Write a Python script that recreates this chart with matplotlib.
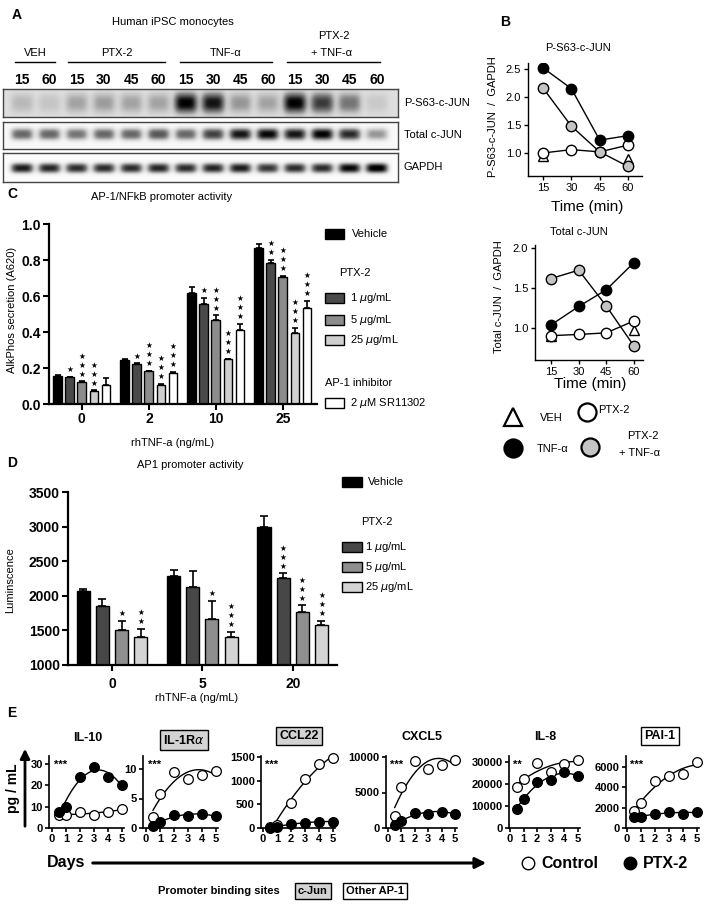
import numpy as np
import matplotlib
matplotlib.use('Agg')
import matplotlib.pyplot as plt
from matplotlib.patches import Rectangle
from matplotlib.transforms import ScaledTranslation

plt.rcParams['font.family'] = ['Liberation Sans', 'DejaVu Sans']

W, H = 711, 908

# ---------------- DATA ----------------
# Panel A (western blot band darkness, 0..1)
blot_time_labels = ['15', '60', '15', '30', '45', '60', '15', '30', '45', '60', '15', '30', '45', '60']
blot_groups = ['VEH', 'PTX-2', 'TNF-α', 'PTX-2\n+ TNF-α']
blot_names = ['P-S63-c-JUN', 'Total c-JUN', 'GAPDH']
band_pjun = [0.17, 0.12, 0.24, 0.26, 0.24, 0.24, 0.78, 0.72, 0.28, 0.24, 0.78, 0.60, 0.40, 0.10]
band_total = [0.62, 0.62, 0.57, 0.62, 0.62, 0.68, 0.62, 0.75, 0.88, 0.93, 0.88, 0.95, 0.82, 0.45]
band_gapdh = [0.88, 0.85, 0.83, 0.83, 0.83, 0.85, 0.83, 0.85, 0.88, 0.80, 0.83, 0.83, 0.95, 1.00]

# Panel B
b_times = [15, 30, 45, 60]
pjun_tnf = [2.52, 2.15, 1.23, 1.31]
pjun_ptx_tnf = [2.16, 1.48, 1.02, 0.76]
pjun_ptx = [1.00, 1.06, 1.02, 1.14]
veh_times = [15, 60]
pjun_veh = [0.95, 0.89]
tot_tnf = [1.04, 1.27, 1.48, 1.82]
tot_ptx_tnf = [1.62, 1.725, 1.275, 0.775]
tot_ptx = [0.905, 0.92, 0.94, 1.09]
tot_veh = [0.90, 0.975]

# Panel C
c_groups = ['0', '2', '10', '25']
c_series = ['Vehicle', '1 $\\mu$g/mL', '5 $\\mu$g/mL', '25 $\\mu$g/mL', '2 $\\mu$M SR11302']
c_vehicle = [0.155, 0.244, 0.615, 0.865]
c_1ug = [0.148, 0.222, 0.554, 0.785]
c_5ug = [0.122, 0.183, 0.467, 0.707]
c_25ug = [0.074, 0.107, 0.248, 0.393]
c_sr = [0.104, 0.174, 0.410, 0.532]
c_vehicle_err = [0.005, 0.004, 0.033, 0.022]
c_1ug_err = [0.004, 0.004, 0.036, 0.015]
c_5ug_err = [0.004, 0.003, 0.025, 0.003]
c_25ug_err = [0.002, 0.003, 0.004, 0.032]
c_sr_err = [0.039, 0.004, 0.034, 0.040]
c_stars = [[0, 1, 3, 3, 0],
           [0, 1, 3, 3, 3],
           [0, 1, 3, 3, 3],
           [0, 2, 3, 3, 3]]

# Panel D
d_groups = ['0', '5', '20']
d_series = ['Vehicle', '1 $\\mu$g/mL', '5 $\\mu$g/mL', '25 $\\mu$g/mL']
d_vehicle = [2065, 2290, 3000]
d_1ug = [1850, 2120, 2260]
d_5ug = [1510, 1660, 1770]
d_25ug = [1410, 1410, 1580]
d_vehicle_err = [30, 85, 160]
d_1ug_err = [100, 245, 65]
d_5ug_err = [130, 270, 90]
d_25ug_err = [110, 70, 55]
d_stars = [[0, 0, 1, 2],
           [0, 0, 1, 3],
           [0, 3, 3, 3]]

# Panel E
e_days = [0.5, 1, 2, 3, 4, 5]
e_names = ['IL-10', 'IL-1R$\\alpha$', 'CCL22', 'CXCL5', 'IL-8', 'PAI-1']
e_sig = ['***', '***', '***', '***', '**', '***']
il10_ctrl = [6.0, 6.3, 7.4, 6.3, 7.6, 8.8]
il10_ptx = [7.6, 10.0, 23.7, 28.6, 23.8, 20.2]
il1ra_ctrl = [1.9, 5.8, 9.5, 8.3, 9.0, 9.6]
il1ra_ptx = [0.4, 1.0, 2.2, 2.0, 2.4, 2.0]
ccl22_ctrl = [21, 71, 533, 1038, 1351, 1479]
ccl22_ptx = [10, 21, 78, 114, 135, 135]
cxcl5_ctrl = [1760, 5710, 9380, 8240, 8900, 9520]
cxcl5_ptx = [476, 950, 2140, 2000, 2290, 2000]
il8_ctrl = [18650, 22230, 29530, 25340, 29220, 31090]
il8_ptx = [8860, 13210, 20980, 21760, 25650, 23630]
pai1_ctrl = [1667, 2467, 4600, 5100, 5333, 6500]
pai1_ptx = [1067, 1067, 1400, 1567, 1400, 1567]
e_yticks = [[0, 10, 20, 30], [0, 5, 10], [0, 500, 1000, 1500],
            [0, 5000, 10000], [0, 10000, 20000, 30000], [0, 2000, 4000, 6000]]

# ---------------- FIGURE ----------------
fig = plt.figure(figsize=(W / 100, H / 100), dpi=100)


def px_axes(x0, y0, x1, y1):
    return fig.add_axes([x0 / W, 1 - y1 / H, (x1 - x0) / W, (y1 - y0) / H])


ov = fig.add_axes([0, 0, 1, 1])
ov.set_xlim(0, W)
ov.set_ylim(H, 0)
ov.axis('off')
ov.set_zorder(5)


def T(x, y, s, size=8, weight='normal', ha='center', va='center', **kw):
    ov.text(x, y, s, fontsize=size, fontweight=weight, ha=ha, va=va, **kw)


def star_stack(ax, x, y, n):
    if n <= 0:
        return
    ax.annotate('\n'.join(['★'] * n), (x, y), xytext=(0, 2), textcoords='offset points',
                ha='center', va='bottom', fontsize=5.5, linespacing=1.0,
                family='DejaVu Sans')


# ---------- Panel A ----------
T(17, 15, 'A', size=10, weight='bold')
T(173, 22, 'Human iPSC monocytes', size=8)
group_spans = [(15, 55), (68, 165), (180, 272), (287, 380)]
for (a, b), g in zip(group_spans, blot_groups):
    ov.plot([a, b], [62, 62], color='black', lw=1)
    if '\n' in g:
        l1, l2 = g.split('\n')
        T((a + b) / 2, 36, l1, size=8)
        T((a + b) / 2 - 2, 53, l2, size=8)
    else:
        T((a + b) / 2, 53, g, size=8)
lane_x = np.linspace(22, 377, 14)
for x, t in zip(lane_x, blot_time_labels):
    T(x, 80, t, size=10, weight='bold')

blot_boxes = [(89, 117), (122, 149), (153, 182)]
blot_params = [(band_pjun, 0.22, 11.5, 0.36, 0.5),
               (band_total, 0.05, 11.5, 0.23, 0.45),
               (band_gapdh, 0.03, 11.5, 0.18, 0.52)]
for (y0, y1), (bands, bg, sx, sy, yc), name in zip(blot_boxes, blot_params, blot_names):
    ax = px_axes(3, y0, 398, y1)
    xs = np.linspace(3, 398, 800)
    ys = np.linspace(0, 1, 60)
    X, Y = np.meshgrid(xs, ys)
    img = np.full(X.shape, bg)
    for c, a in zip(lane_x, bands):
        img += a * np.exp(-np.abs((X - c) / sx) ** 4) * np.exp(-np.abs((Y - yc) / sy) ** 2.5)
    ax.imshow(np.clip(img, 0, 1), cmap='Greys', vmin=0, vmax=1, aspect='auto',
              extent=(3, 398, 1, 0), interpolation='bilinear')
    ax.set_xticks([])
    ax.set_yticks([])
    for s in ax.spines.values():
        s.set_color('#444444')
        s.set_linewidth(1)
    T(404, (y0 + y1) / 2, name, size=8, ha='left')

# ---------- Panel B ----------
T(505, 22, 'B', size=10, weight='bold')


def b_plot(ax, tnf, ptx_tnf, ptx, veh):
    ax.plot(b_times, ptx, '-', color='black', lw=1, zorder=2)
    ax.plot(b_times, ptx_tnf, '-', color='black', lw=1, zorder=2)
    ax.plot(b_times, tnf, '-', color='black', lw=1, zorder=2)
    ax.plot(veh_times, veh, '^', ms=7, mfc='white', mec='black', mew=1, zorder=3)
    ax.plot(b_times, ptx, 'o', ms=7.5, mfc='white', mec='black', mew=1, zorder=4)
    ax.plot(b_times, ptx_tnf, 'o', ms=7.5, mfc='#c4c4c4', mec='black', mew=1, zorder=5)
    ax.plot(b_times, tnf, 'o', ms=7.5, mfc='black', mec='black', mew=1, zorder=6)
    for s in ['top', 'right']:
        ax.spines[s].set_visible(False)
    ax.set_xticks(b_times)
    ax.tick_params(labelsize=8, length=3, width=1, pad=2)
    for s in ['left', 'bottom']:
        ax.spines[s].set_linewidth(1)


axb1 = px_axes(528, 63, 642, 176)
b_plot(axb1, pjun_tnf, pjun_ptx_tnf, pjun_ptx, pjun_veh)
axb1.set_xlim(7.06, 67.4)
axb1.set_ylim(0.589, 2.607)
axb1.set_yticks([1.0, 1.5, 2.0, 2.5])
axb1.set_yticklabels(['1.0', '1.5', '2.0', '2.5'])
T(578, 48, 'P-S63-c-JUN', size=8)
T(493, 117, 'P-S63-c-JUN  /  GAPDH', size=8, rotation=90)
T(587, 207, 'Time (min)', size=11)

axb2 = px_axes(535, 245, 643, 360)
b_plot(axb2, tot_tnf, tot_ptx_tnf, tot_ptx, tot_veh)
axb2.set_xlim(6.3, 64.9)
axb2.set_ylim(0.6, 2.04)
axb2.set_yticks([1.0, 1.5, 2.0])
axb2.set_yticklabels(['1.0', '1.5', '2.0'])
T(579, 232, 'Total c-JUN', size=8)
T(499, 297, 'Total c-JUN  /  GAPDH', size=8, rotation=90)
T(590, 384, 'Time (min)', size=11)

# B legend
ov.plot(513, 417, '^', ms=13, mfc='white', mec='black', mew=1.6)
T(540, 418, 'VEH', size=8, ha='left')
ov.plot(587, 412, 'o', ms=13, mfc='white', mec='black', mew=1.6)
T(598, 410, 'PTX-2', size=8, ha='left')
ov.plot(513, 448, 'o', ms=13, mfc='black', mec='black', mew=1.6)
T(537, 449, 'TNF-α', size=8, ha='left')
ov.plot(590, 447, 'o', ms=13, mfc='#c4c4c4', mec='black', mew=1.6)
T(643, 436, 'PTX-2', size=8)
T(640, 453, '+ TNF-α', size=8)

# ---------- Panel C ----------
T(12, 194, 'C', size=10, weight='bold')
T(162, 197, 'AP-1/NFkB promoter activity', size=8)
axc = px_axes(49, 224, 317, 404)
c_vals = [c_vehicle, c_1ug, c_5ug, c_25ug, c_sr]
c_errs = [c_vehicle_err, c_1ug_err, c_5ug_err, c_25ug_err, c_sr_err]
c_colors = ['#000000', '#4a4a4a', '#8c8c8c', '#cfcfcf', '#ffffff']
cx = np.arange(len(c_groups))
c_step = 0.181
c_w = 0.13
for i, (vals, errs, col) in enumerate(zip(c_vals, c_errs, c_colors)):
    xpos = cx + (i - 2) * c_step
    axc.bar(xpos, vals, width=c_w, color=col, edgecolor='black', linewidth=1, zorder=2)
    axc.errorbar(xpos, vals, yerr=[np.zeros(len(vals)), errs], fmt='none', ecolor='black',
                 elinewidth=1.2, capsize=2.5, capthick=1.2, zorder=3)
    for g in range(len(c_groups)):
        star_stack(axc, xpos[g], vals[g] + errs[g], c_stars[g][i])
axc.set_xlim(-0.49, 3.51)
axc.set_ylim(0, 1.0)
axc.set_yticks([0, 0.2, 0.4, 0.6, 0.8, 1.0])
axc.set_yticklabels(['0.0', '0.2', '0.4', '0.6', '0.8', '1.0'])
axc.set_xticks(cx)
axc.set_xticklabels(c_groups)
c_label_shift = [-2, 2, 27, 52]
for lbl, dx in zip(axc.get_xticklabels(), c_label_shift):
    lbl.set_transform(lbl.get_transform() + ScaledTranslation(dx / 100, 0, fig.dpi_scale_trans))
for s in ['top', 'right']:
    axc.spines[s].set_visible(False)
for s in ['left', 'bottom']:
    axc.spines[s].set_linewidth(1.6)
axc.tick_params(length=4, width=1.5, labelsize=10, pad=2)
for lbl in axc.get_xticklabels() + axc.get_yticklabels():
    lbl.set_fontweight('bold')
T(12, 310, 'AlkPhos secretion (A620)', size=8, rotation=90)
T(173, 443, 'rhTNF-a (ng/mL)', size=8)


# C legend
def legbox(x, y, col, w=19, h=10):
    ov.add_patch(Rectangle((x, y - h / 2), w, h, facecolor=col, edgecolor='black', lw=1))


legbox(325, 234, c_colors[0])
T(352, 234, c_series[0], size=8, ha='left')
T(355, 273, 'PTX-2', size=8)
for yy, col, lab in zip([298, 320, 340], c_colors[1:4], c_series[1:4]):
    legbox(325, yy, col)
    T(350, yy, lab, size=8, ha='left')
T(325, 383, 'AP-1 inhibitor', size=8, ha='left')
legbox(325, 403, c_colors[4])
T(350, 403, c_series[4], size=8, ha='left')

# ---------- Panel D ----------
T(12, 463, 'D', size=10, weight='bold')
T(190, 465, 'AP1 promoter activity', size=8)
axd = px_axes(68, 492, 337, 665)
d_vals = [d_vehicle, d_1ug, d_5ug, d_25ug]
d_errs = [d_vehicle_err, d_1ug_err, d_5ug_err, d_25ug_err]
d_colors = ['#000000', '#474747', '#8f8f8f', '#d4d4d4']
dx_ = np.arange(len(d_groups))
d_step = 0.212
d_w = 0.145
for i, (vals, errs, col) in enumerate(zip(d_vals, d_errs, d_colors)):
    xpos = dx_ + (i - 1.5) * d_step
    axd.bar(xpos, np.array(vals) - 1000, bottom=1000, width=d_w, color=col,
            edgecolor='black', linewidth=1, zorder=2)
    axd.errorbar(xpos, vals, yerr=[np.zeros(len(vals)), errs], fmt='none', ecolor='black',
                 elinewidth=1.2, capsize=3, capthick=1.2, zorder=3)
    for g in range(len(d_groups)):
        star_stack(axd, xpos[g], vals[g] + errs[g], d_stars[g][i])
axd.set_xlim(-0.486, 2.49)
axd.set_ylim(1000, 3500)
axd.set_yticks([1000, 1500, 2000, 2500, 3000, 3500])
axd.set_xticks(dx_)
axd.set_xticklabels(d_groups)
for s in ['top', 'right']:
    axd.spines[s].set_visible(False)
for s in ['left', 'bottom']:
    axd.spines[s].set_linewidth(1.6)
axd.tick_params(length=4, width=1.5, labelsize=10, pad=2)
axd.tick_params(axis='x', pad=5)
for lbl in axd.get_xticklabels() + axd.get_yticklabels():
    lbl.set_fontweight('bold')
T(10, 580, 'Luminscence', size=8, rotation=90)
T(197, 698, 'rhTNF-a (ng/mL)', size=8)

legbox(342, 482, d_colors[0], w=20)
T(368, 482, d_series[0], size=8, ha='left')
T(377, 522, 'PTX-2', size=8)
for yy, col, lab in zip([547, 567, 587], d_colors[1:], d_series[1:]):
    legbox(342, yy, col, w=20)
    T(365, yy, lab, size=8, ha='left')

# ---------- Panel E ----------
T(12, 713, 'E', size=10, weight='bold')
e_ctrl = [il10_ctrl, il1ra_ctrl, ccl22_ctrl, cxcl5_ctrl, il8_ctrl, pai1_ctrl]
e_ptx = [il10_ptx, il1ra_ptx, ccl22_ptx, cxcl5_ptx, il8_ptx, pai1_ptx]
# (spine px, x=0 px, x=5 px, top tick px)
e_geom = [(49, 52, 122, 764), (143, 146, 216, 769), (261, 263, 333, 757),
          (386, 388, 455, 757), (509, 510, 578, 762), (626, 627, 697, 767)]
e_title_x = [88, 184, 299, 422, 545, 660]
e_title_y = [738, 740, 736, 737, 737, 736]
e_title_box = [None, '#d3d3d3', '#d3d3d3', None, None, 'white']
y_zero_px, y_top_px = 828, 756
xs_fit = np.linspace(min(e_days), max(e_days), 200)
for k in range(6):
    sp, x0p, x5p, ttp = e_geom[k]
    ppd = (x5p - x0p) / 5.0
    ax = px_axes(sp, y_top_px, x5p + 2, y_zero_px)
    ax.set_xlim((sp - x0p) / ppd, 5 + 2 / ppd)
    topv = e_yticks[k][-1]
    ax.set_ylim(0, topv * (y_zero_px - y_top_px) / (y_zero_px - ttp))
    for ser, fc in [(e_ctrl[k], 'white'), (e_ptx[k], 'black')]:
        coef = np.polyfit(e_days, ser, 2)
        ax.plot(xs_fit, np.polyval(coef, xs_fit), color='black', lw=1, zorder=2)
        ax.plot(e_days, ser, 'o', ms=7, mfc=fc, mec='black', mew=0.9, zorder=3, clip_on=False)
    ax.set_xticks(range(6))
    ax.set_yticks(e_yticks[k])
    for s in ['top', 'right']:
        ax.spines[s].set_visible(False)
    for s in ['left', 'bottom']:
        ax.spines[s].set_linewidth(1.2)
    ax.tick_params(length=3, width=1.2, labelsize=8, pad=1.5)
    for lbl in ax.get_xticklabels() + ax.get_yticklabels():
        lbl.set_fontweight('bold')
    ax.text(0.06, 0.88, e_sig[k], transform=ax.transAxes, fontsize=8, fontweight='bold',
            ha='left', va='center')
    bb = None
    if e_title_box[k] is not None:
        bb = dict(boxstyle='square,pad=0.25', facecolor=e_title_box[k], edgecolor='black', lw=1)
    T(e_title_x[k], e_title_y[k], e_names[k], size=9, weight='bold', bbox=bb)

ov.annotate('', xy=(25, 746), xytext=(25, 829),
            arrowprops=dict(arrowstyle='-|>', lw=2, color='black', mutation_scale=14))
T(13, 788, 'pg / mL', size=10, weight='bold', rotation=90)
T(47, 862, 'Days', size=11.5, weight='bold', ha='left')
ov.annotate('', xy=(489, 863), xytext=(90, 863),
            arrowprops=dict(arrowstyle='-|>', lw=2.2, color='black', mutation_scale=16))
ov.plot(528, 863, 'o', ms=9, mfc='white', mec='black', mew=1)
T(541, 863, 'Control', size=11.5, weight='bold', ha='left')
ov.plot(630, 863, 'o', ms=9, mfc='black', mec='black', mew=1)
T(643, 863, 'PTX-2', size=11.5, weight='bold', ha='left')
T(219, 891, 'Promoter binding sites', size=8, weight='bold')
T(313, 891, 'c-Jun', size=8, weight='bold',
  bbox=dict(boxstyle='square,pad=0.25', facecolor='#d3d3d3', edgecolor='black', lw=1))
T(375, 891, 'Other AP-1', size=8, weight='bold',
  bbox=dict(boxstyle='square,pad=0.25', facecolor='white', edgecolor='black', lw=1))

fig.savefig('out.png', dpi=100)
